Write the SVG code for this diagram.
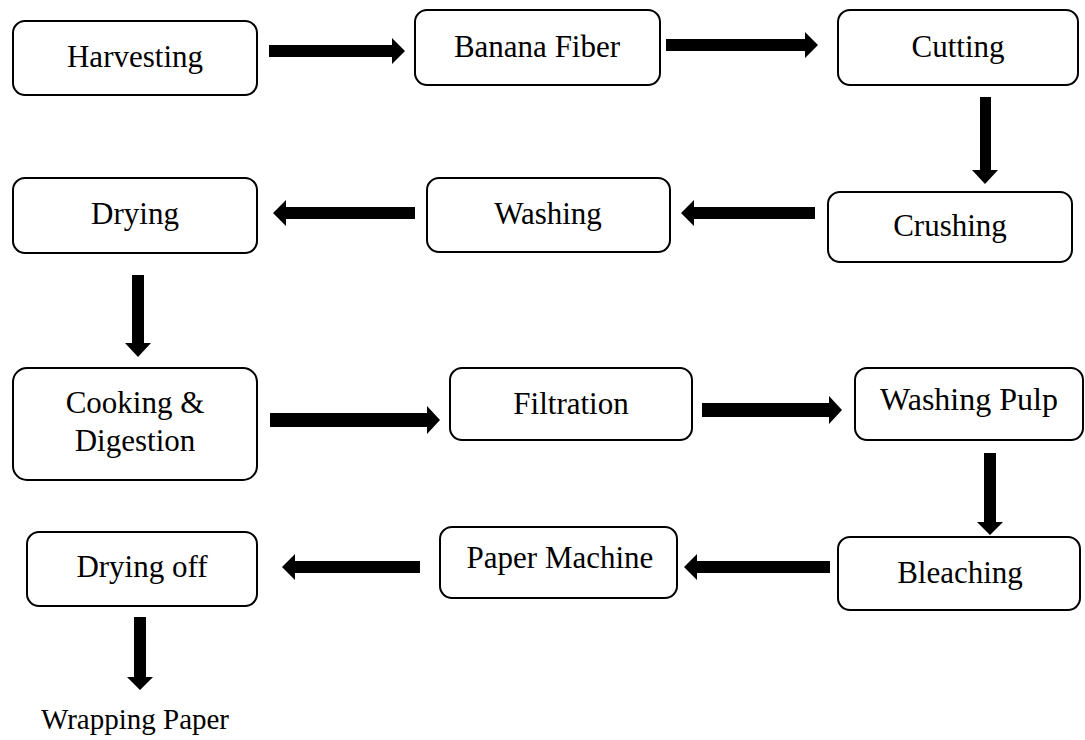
<svg xmlns="http://www.w3.org/2000/svg" width="1085" height="740" viewBox="0 0 1085 740">
<style>
.box{fill:#fff;stroke:#000;stroke-width:2}
.t{font-family:"Liberation Serif","Times New Roman",serif;font-size:31px;fill:#000;text-anchor:middle}
.a{fill:#000}
</style>
<rect width="1085" height="740" fill="#fff"/>
<g id="n-harvesting"><rect class="box" x="13" y="21" width="244" height="74" rx="12"/><text class="t" x="135" y="67">Harvesting</text></g>
<g id="n-banana"><rect class="box" x="415" y="10" width="245" height="75" rx="12"/><text class="t" x="537" y="57">Banana Fiber</text></g>
<g id="n-cutting"><rect class="box" x="838" y="10" width="240" height="75" rx="12"/><text class="t" x="958" y="57">Cutting</text></g>
<g id="n-drying"><rect class="box" x="13" y="178" width="244" height="75" rx="12"/><text class="t" x="135" y="224">Drying</text></g>
<g id="n-washing"><rect class="box" x="427" y="178" width="243" height="74" rx="12"/><text class="t" x="548" y="224">Washing</text></g>
<g id="n-crushing"><rect class="box" x="828" y="192" width="244" height="70" rx="12"/><text class="t" x="950" y="236">Crushing</text></g>
<g id="n-cooking"><rect class="box" x="13" y="368" width="244" height="112" rx="14"/><text class="t" x="135" y="413">Cooking &amp;</text><text class="t" x="135" y="451">Digestion</text></g>
<g id="n-filtration"><rect class="box" x="450" y="368" width="242" height="72" rx="12"/><text class="t" x="571" y="414">Filtration</text></g>
<g id="n-washpulp"><rect class="box" x="855" y="368" width="228" height="72" rx="12"/><text class="t" x="969" y="410" style="font-size:32px">Washing Pulp</text></g>
<g id="n-dryingoff"><rect class="box" x="27" y="532" width="230" height="74" rx="12"/><text class="t" x="142" y="577">Drying off</text></g>
<g id="n-papermachine"><rect class="box" x="440" y="527" width="237" height="71" rx="12"/><text class="t" x="560" y="568">Paper Machine</text></g>
<g id="n-bleaching"><rect class="box" x="838" y="537" width="242" height="73" rx="12"/><text class="t" x="960" y="583">Bleaching</text></g>
<g id="n-wrapping"><text class="t" x="135" y="729" style="font-size:29px">Wrapping Paper</text></g>
<g id="connectors" class="a">
<polygon points="269,45 392,45 392,38 405,51 392,64 392,57 269,57"/>
<polygon points="666,39 805,39 805,32 818,45 805,58 805,51 666,51"/>
<polygon points="980,97 991,97 991,170 998,170 985,184 972,170 980,170"/>
<polygon points="815,207 694,207 694,200 681,213 694,226 694,219 815,219"/>
<polygon points="415,207 286,207 286,200 273,213 286,226 286,219 415,219"/>
<polygon points="132,275 144,275 144,343 151,343 138,357 125,343 132,343"/>
<polygon points="270,413 427,413 427,406 440,420 427,434 427,427 270,427"/>
<polygon points="702,403 829,403 829,396 842,410 829,424 829,417 702,417"/>
<polygon points="984,453 996,453 996,522 1003,522 990,535 977,522 984,522"/>
<polygon points="830,561 697,561 697,554 684,567 697,580 697,573 830,573"/>
<polygon points="420,561 295,561 295,554 282,567 295,580 295,573 420,573"/>
<polygon points="134,617 146,617 146,677 153,677 140,690 127,677 134,677"/>
</g>
</svg>
